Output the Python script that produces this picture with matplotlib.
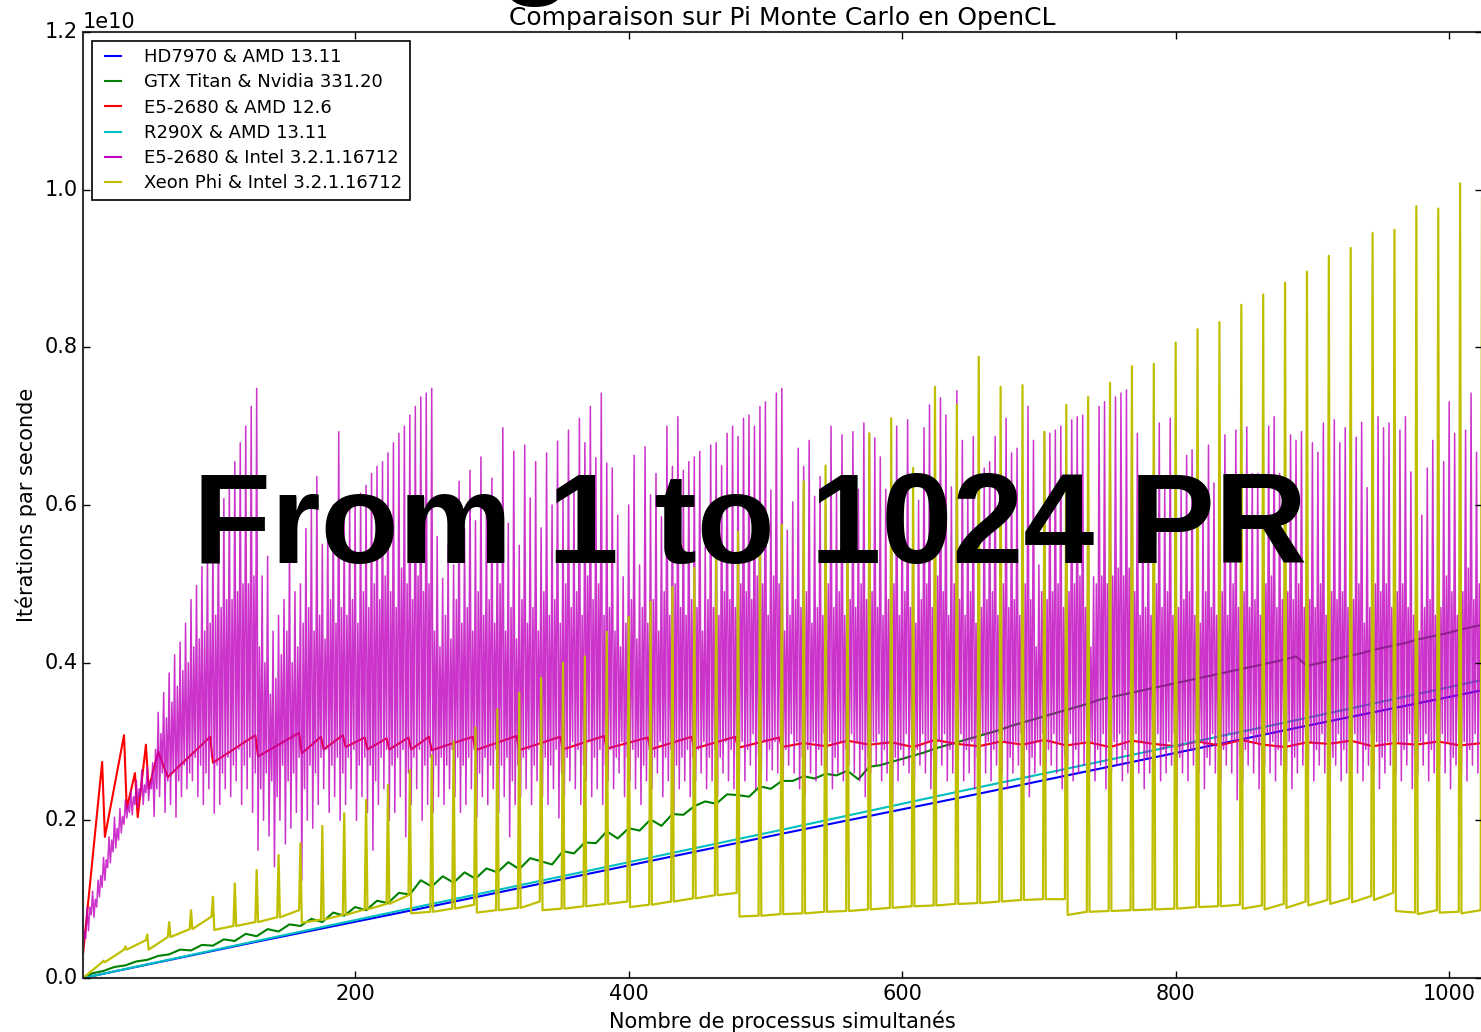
import numpy as np
import matplotlib
matplotlib.use("Agg")
import matplotlib.pyplot as plt

plt.style.use("classic")
plt.rcParams["font.family"] = ["DejaVu Sans"]
plt.rcParams["font.size"] = 15

SCALE = 1e10

labels = ["HD7970 & AMD 13.11", "GTX Titan & Nvidia 331.20", "E5-2680 & AMD 12.6",
          "R290X & AMD 13.11", "E5-2680 & Intel 3.2.1.16712", "Xeon Phi & Intel 3.2.1.16712"]

# HD7970 / R290X : almost straight lines (values in 1e10 it/s)
lin_x = [1, 128, 256, 384, 512, 640, 768, 896, 1024]
hd7970 = [0.0, 0.046, 0.091, 0.137, 0.183, 0.228, 0.274, 0.320, 0.365]
r290x = [0.0, 0.047, 0.094, 0.141, 0.188, 0.236, 0.283, 0.330, 0.378]

# GTX Titan, read every 8 processes
titan_x = [1] + list(range(8, 1025, 8))
titan = [0.000,
         0.006, 0.009, 0.014, 0.016, 0.021, 0.023, 0.028, 0.030,
         0.036, 0.035, 0.042, 0.041, 0.049, 0.047, 0.056, 0.053,
         0.062, 0.059, 0.068, 0.066, 0.075, 0.071, 0.083, 0.079,
         0.090, 0.086, 0.098, 0.095, 0.108, 0.106, 0.124, 0.116,
         0.129, 0.121, 0.134, 0.126, 0.139, 0.134, 0.147, 0.138,
         0.152, 0.148, 0.144, 0.161, 0.158, 0.172, 0.171, 0.186,
         0.177, 0.190, 0.187, 0.201, 0.193, 0.208, 0.207, 0.218,
         0.224, 0.221, 0.233, 0.232, 0.230, 0.243, 0.240, 0.250,
         0.250, 0.256, 0.253, 0.259, 0.257, 0.263, 0.252, 0.268,
         0.270, 0.274, 0.278, 0.282, 0.286, 0.291, 0.295, 0.299,
         0.303, 0.307, 0.311, 0.315, 0.320, 0.324, 0.328, 0.332,
         0.336, 0.340, 0.344, 0.348, 0.353, 0.356, 0.359, 0.362,
         0.365, 0.368, 0.371, 0.374, 0.377, 0.380, 0.383, 0.386,
         0.389, 0.392, 0.395, 0.398, 0.401, 0.404, 0.408, 0.396,
         0.399, 0.402, 0.406, 0.409, 0.412, 0.416, 0.419, 0.422,
         0.425, 0.429, 0.432, 0.435, 0.438, 0.442, 0.445, 0.448]

# E5-2680 with AMD SDK: vertices of the sawtooth
e5amd_x = [1, 15, 17, 31, 33, 39, 41, 47, 49, 56, 63, 94, 96, 127, 129, 159, 161,
           175, 177, 191, 193, 207, 209, 223, 225, 239, 241,
           254, 256, 286, 288, 318, 320, 350, 352, 382, 384, 414, 416, 446, 448, 478, 480, 510, 512] \
          + list(range(528, 1025, 16))
e5amd = [0.03, 0.274, 0.179, 0.308, 0.215, 0.26, 0.204, 0.296, 0.24, 0.287, 0.255, 0.306, 0.273,
         0.308, 0.281, 0.311, 0.285, 0.306, 0.29, 0.308, 0.293, 0.305, 0.29, 0.304, 0.29, 0.305, 0.29,
         0.306, 0.289, 0.306, 0.289, 0.307, 0.289, 0.306, 0.29, 0.307, 0.291, 0.305, 0.29, 0.306,
         0.291, 0.306, 0.292, 0.305, 0.293,
         0.298, 0.294, 0.301, 0.296, 0.299, 0.293, 0.302, 0.297, 0.294, 0.300, 0.296, 0.302,
         0.295, 0.299, 0.293, 0.301, 0.297, 0.294, 0.300, 0.295, 0.302, 0.296, 0.293, 0.299,
         0.297, 0.301, 0.294, 0.298, 0.296, 0.300, 0.295, 0.298]

# E5-2680 with Intel SDK, one row = 64 processes, four samples per 4 processes:
# low (4k+1), mid (4k+2), low2 (4k+3), peak (4k+4)
e5intel_peak = [
    0.09, 0.11, 0.124, 0.153, 0.179, 0.204, 0.215, 0.226, 0.238, 0.251, 0.264, 0.268, 0.273, 0.337, 0.362, 0.387,
    0.41, 0.426, 0.45, 0.48, 0.498, 0.522, 0.546, 0.565, 0.585, 0.608, 0.63, 0.655, 0.679, 0.70, 0.725, 0.748,
    0.51, 0.535, 0.44, 0.46, 0.48, 0.55, 0.49, 0.50, 0.57, 0.60, 0.636, 0.55, 0.58, 0.60, 0.693, 0.59,
    0.60, 0.61, 0.615, 0.625, 0.64, 0.649, 0.655, 0.666, 0.679, 0.691, 0.70, 0.714, 0.725, 0.737, 0.742, 0.748,
    0.56, 0.507, 0.55, 0.524, 0.63, 0.57, 0.644, 0.58, 0.661, 0.60, 0.634, 0.60, 0.698, 0.577, 0.668, 0.549,
    0.676, 0.609, 0.655, 0.571, 0.666, 0.60, 0.681, 0.61, 0.695, 0.62, 0.71, 0.679, 0.725, 0.66, 0.742, 0.653,
    0.647, 0.587, 0.509, 0.60, 0.663, 0.524, 0.674, 0.613, 0.64, 0.585, 0.70, 0.649, 0.712, 0.644, 0.655, 0.661,
    0.668, 0.547, 0.676, 0.679, 0.65, 0.691, 0.70, 0.687, 0.71, 0.714, 0.70, 0.725, 0.731, 0.619, 0.742, 0.748,
    0.568, 0.604, 0.672, 0.649, 0.682, 0.611, 0.636, 0.60, 0.70, 0.62, 0.689, 0.62, 0.693, 0.62, 0.704, 0.691,
    0.685, 0.661, 0.62, 0.65, 0.70, 0.62, 0.708, 0.62, 0.606, 0.698, 0.727, 0.65, 0.736, 0.714, 0.623, 0.745,
    0.682, 0.62, 0.687, 0.62, 0.647, 0.655, 0.687, 0.62, 0.71, 0.666, 0.672, 0.62, 0.725, 0.682, 0.524, 0.693,
    0.691, 0.695, 0.70, 0.65, 0.708, 0.712, 0.714, 0.65, 0.509, 0.725, 0.731, 0.733, 0.737, 0.742, 0.746, 0.748,
    0.691, 0.62, 0.62, 0.63, 0.704, 0.62, 0.71, 0.62, 0.62, 0.663, 0.67, 0.62, 0.60, 0.676, 0.628, 0.63,
    0.689, 0.62, 0.695, 0.63, 0.699, 0.64, 0.64, 0.63, 0.70, 0.712, 0.64, 0.64, 0.689, 0.682, 0.693, 0.66,
    0.679, 0.667, 0.704, 0.64, 0.708, 0.679, 0.698, 0.64, 0.686, 0.705, 0.622, 0.64, 0.712, 0.698, 0.704, 0.64,
    0.695, 0.712, 0.642, 0.62, 0.587, 0.647, 0.682, 0.62, 0.655, 0.731, 0.691, 0.62, 0.695, 0.742, 0.667, 0.70]
e5intel_mid = [
    0.06, 0.09, 0.10, 0.13, 0.15, 0.175, 0.19, 0.205, 0.22, 0.23, 0.24, 0.245, 0.25, 0.29, 0.31, 0.33,
    0.35, 0.37, 0.39, 0.40, 0.42, 0.43, 0.44, 0.45, 0.46, 0.47, 0.48, 0.48, 0.49, 0.50, 0.50, 0.51,
    0.42, 0.40, 0.36, 0.38, 0.41, 0.44, 0.40, 0.42, 0.45, 0.47, 0.44, 0.46, 0.43, 0.48, 0.45, 0.47,
    0.46, 0.48, 0.45, 0.49, 0.47, 0.50, 0.48, 0.51, 0.49, 0.47, 0.52, 0.50, 0.48, 0.51, 0.49, 0.50,
    0.44, 0.42, 0.46, 0.43, 0.48, 0.45, 0.47, 0.44, 0.49, 0.46, 0.48, 0.45, 0.50, 0.44, 0.47, 0.43,
    0.48, 0.45, 0.47, 0.44, 0.49, 0.46, 0.48, 0.45, 0.50, 0.47, 0.49, 0.46, 0.51, 0.48, 0.50, 0.46,
    0.47, 0.44, 0.42, 0.45, 0.48, 0.43, 0.47, 0.45, 0.48, 0.44, 0.49, 0.46, 0.50, 0.47, 0.46, 0.48,
    0.47, 0.44, 0.48, 0.47, 0.46, 0.49, 0.48, 0.47, 0.50, 0.49, 0.48, 0.51, 0.50, 0.46, 0.51, 0.50,
    0.44, 0.46, 0.48, 0.47, 0.49, 0.45, 0.47, 0.46, 0.50, 0.47, 0.49, 0.46, 0.48, 0.47, 0.50, 0.48,
    0.49, 0.47, 0.46, 0.48, 0.50, 0.46, 0.49, 0.47, 0.45, 0.48, 0.50, 0.47, 0.51, 0.49, 0.46, 0.50,
    0.48, 0.46, 0.49, 0.45, 0.47, 0.48, 0.49, 0.46, 0.50, 0.47, 0.48, 0.46, 0.50, 0.48, 0.42, 0.49,
    0.48, 0.49, 0.50, 0.47, 0.49, 0.50, 0.51, 0.47, 0.42, 0.50, 0.51, 0.50, 0.51, 0.52, 0.51, 0.52,
    0.49, 0.46, 0.47, 0.46, 0.50, 0.47, 0.49, 0.46, 0.47, 0.48, 0.49, 0.46, 0.45, 0.49, 0.47, 0.46,
    0.49, 0.46, 0.50, 0.47, 0.49, 0.47, 0.48, 0.46, 0.50, 0.51, 0.47, 0.48, 0.49, 0.48, 0.50, 0.47,
    0.48, 0.47, 0.50, 0.46, 0.49, 0.48, 0.49, 0.47, 0.48, 0.50, 0.45, 0.47, 0.50, 0.49, 0.50, 0.47,
    0.49, 0.50, 0.47, 0.46, 0.44, 0.47, 0.48, 0.46, 0.47, 0.51, 0.49, 0.46, 0.49, 0.52, 0.48, 0.50]
e5intel_low = [
    0.03, 0.06, 0.077, 0.103, 0.124, 0.146, 0.165, 0.184, 0.203, 0.207, 0.216, 0.22, 0.225, 0.205, 0.23, 0.21,
    0.22, 0.204, 0.23, 0.24, 0.25, 0.23, 0.22, 0.24, 0.209, 0.22, 0.24, 0.23, 0.25, 0.22, 0.24, 0.21,
    0.162, 0.2, 0.18, 0.141, 0.2, 0.17, 0.19, 0.21, 0.124, 0.2, 0.19, 0.22, 0.24, 0.21, 0.23, 0.2,
    0.22, 0.24, 0.2, 0.23, 0.21, 0.162, 0.22, 0.24, 0.2, 0.21, 0.23, 0.179, 0.22, 0.24, 0.2, 0.22,
    0.21, 0.23, 0.22, 0.24, 0.23, 0.21, 0.22, 0.24, 0.204, 0.23, 0.22, 0.24, 0.21, 0.23, 0.179, 0.22,
    0.23, 0.24, 0.22, 0.25, 0.23, 0.22, 0.24, 0.203, 0.23, 0.25, 0.24, 0.22, 0.25, 0.23, 0.24, 0.22,
    0.25, 0.24, 0.26, 0.23, 0.25, 0.24, 0.22, 0.25, 0.24, 0.26, 0.23, 0.25, 0.209, 0.24, 0.25, 0.23,
    0.25, 0.26, 0.24, 0.25, 0.23, 0.26, 0.25, 0.24, 0.26, 0.25, 0.27, 0.24, 0.26, 0.25, 0.264, 0.26,
    0.25, 0.27, 0.26, 0.24, 0.23, 0.26, 0.25, 0.27, 0.26, 0.24, 0.26, 0.25, 0.27, 0.26, 0.25, 0.23,
    0.26, 0.27, 0.25, 0.26, 0.222, 0.25, 0.27, 0.26, 0.25, 0.27, 0.26, 0.24, 0.26, 0.27, 0.25, 0.26,
    0.27, 0.25, 0.26, 0.24, 0.27, 0.26, 0.25, 0.27, 0.26, 0.24, 0.26, 0.27, 0.25, 0.23, 0.26, 0.27,
    0.25, 0.27, 0.26, 0.24, 0.27, 0.25, 0.26, 0.27, 0.26, 0.25, 0.27, 0.24, 0.26, 0.27, 0.25, 0.26,
    0.27, 0.26, 0.24, 0.26, 0.27, 0.25, 0.26, 0.27, 0.23, 0.26, 0.25, 0.27, 0.26, 0.24, 0.27, 0.26,
    0.25, 0.27, 0.26, 0.226, 0.25, 0.27, 0.26, 0.24, 0.27, 0.26, 0.25, 0.27, 0.26, 0.24, 0.26, 0.27,
    0.26, 0.25, 0.27, 0.26, 0.24, 0.27, 0.25, 0.26, 0.27, 0.26, 0.25, 0.27, 0.26, 0.24, 0.26, 0.27,
    0.26, 0.25, 0.27, 0.24, 0.26, 0.27, 0.25, 0.26, 0.27, 0.26, 0.24, 0.27, 0.26, 0.25, 0.27, 0.26]
e5intel_low2 = [
    0.05, 0.08, 0.09, 0.115, 0.14, 0.16, 0.175, 0.195, 0.21, 0.22, 0.23, 0.235, 0.24, 0.24, 0.26, 0.25,
    0.26, 0.25, 0.27, 0.26, 0.28, 0.27, 0.26, 0.28, 0.27, 0.26, 0.28, 0.27, 0.29, 0.27, 0.28, 0.26,
    0.24, 0.26, 0.25, 0.23, 0.27, 0.25, 0.26, 0.28, 0.24, 0.27, 0.26, 0.28, 0.29, 0.27, 0.28, 0.26,
    0.28, 0.29, 0.27, 0.28, 0.27, 0.25, 0.28, 0.29, 0.27, 0.28, 0.29, 0.26, 0.28, 0.29, 0.27, 0.28,
    0.27, 0.28, 0.27, 0.29, 0.28, 0.27, 0.28, 0.29, 0.26, 0.28, 0.27, 0.29, 0.27, 0.28, 0.25, 0.27,
    0.28, 0.29, 0.27, 0.30, 0.28, 0.27, 0.29, 0.26, 0.28, 0.30, 0.29, 0.27, 0.30, 0.28, 0.29, 0.27,
    0.29, 0.28, 0.30, 0.28, 0.29, 0.28, 0.27, 0.29, 0.28, 0.30, 0.28, 0.29, 0.27, 0.28, 0.29, 0.28,
    0.29, 0.30, 0.28, 0.29, 0.28, 0.30, 0.29, 0.28, 0.30, 0.29, 0.31, 0.28, 0.30, 0.29, 0.30, 0.30,
    0.29, 0.31, 0.30, 0.28, 0.29, 0.30, 0.29, 0.31, 0.30, 0.28, 0.30, 0.29, 0.31, 0.30, 0.29, 0.28,
    0.30, 0.31, 0.29, 0.30, 0.28, 0.29, 0.31, 0.30, 0.29, 0.31, 0.30, 0.28, 0.30, 0.31, 0.29, 0.30,
    0.31, 0.29, 0.30, 0.28, 0.31, 0.30, 0.29, 0.31, 0.30, 0.28, 0.30, 0.31, 0.29, 0.28, 0.30, 0.31,
    0.29, 0.31, 0.30, 0.28, 0.31, 0.29, 0.30, 0.31, 0.30, 0.29, 0.31, 0.28, 0.30, 0.31, 0.29, 0.30,
    0.31, 0.30, 0.28, 0.30, 0.31, 0.29, 0.30, 0.31, 0.28, 0.30, 0.29, 0.31, 0.30, 0.28, 0.31, 0.30,
    0.29, 0.31, 0.30, 0.28, 0.29, 0.31, 0.30, 0.28, 0.31, 0.30, 0.29, 0.31, 0.30, 0.28, 0.30, 0.31,
    0.30, 0.29, 0.31, 0.30, 0.28, 0.31, 0.29, 0.30, 0.31, 0.30, 0.29, 0.31, 0.30, 0.28, 0.30, 0.31,
    0.30, 0.29, 0.31, 0.28, 0.30, 0.31, 0.29, 0.30, 0.31, 0.30, 0.28, 0.31, 0.30, 0.29, 0.31, 0.30]

# Xeon Phi: spikes every 16 processes, level just before / after each spike
phi_peak = [0.022, 0.040, 0.055, 0.071, 0.086, 0.103, 0.120, 0.137, 0.156, 0.171, 0.193, 0.209, 0.226, 0.245, 0.264, 0.283,
            0.300, 0.318, 0.341, 0.362, 0.381, 0.400, 0.408, 0.439, 0.458, 0.477, 0.496, 0.520, 0.547, 0.566, 0.550, 0.575,
            0.630, 0.650, 0.600, 0.691, 0.710, 0.647, 0.750, 0.727, 0.788, 0.750, 0.752, 0.693, 0.727, 0.737, 0.755, 0.776,
            0.779, 0.806, 0.823, 0.832, 0.854, 0.867, 0.882, 0.896, 0.916, 0.926, 0.945, 0.949, 0.979, 0.976, 1.008, 0.990]
phi_pre = [0.020, 0.036, 0.048, 0.052, 0.062, 0.078, 0.066, 0.071, 0.077, 0.086, 0.074, 0.080, 0.087, 0.094, 0.105, 0.084,
           0.088, 0.093, 0.086, 0.089, 0.097, 0.088, 0.091, 0.094, 0.097, 0.093, 0.097, 0.101, 0.105, 0.108, 0.079, 0.081,
           0.082, 0.084, 0.085, 0.087, 0.089, 0.091, 0.092, 0.094, 0.095, 0.097, 0.099, 0.100, 0.100, 0.084, 0.085, 0.086,
           0.087, 0.088, 0.090, 0.091, 0.093, 0.092, 0.094, 0.097, 0.099, 0.101, 0.104, 0.108, 0.083, 0.086, 0.084, 0.086]
phi_post = [0.020, 0.036, 0.036, 0.052, 0.062, 0.061, 0.066, 0.071, 0.077, 0.070, 0.074, 0.080, 0.087, 0.094, 0.082, 0.084,
            0.088, 0.083, 0.086, 0.089, 0.086, 0.088, 0.091, 0.094, 0.090, 0.093, 0.097, 0.101, 0.105, 0.078, 0.079, 0.081,
            0.082, 0.084, 0.085, 0.087, 0.089, 0.091, 0.092, 0.094, 0.095, 0.097, 0.099, 0.100, 0.080, 0.084, 0.085, 0.086,
            0.087, 0.088, 0.090, 0.091, 0.088, 0.087, 0.089, 0.092, 0.094, 0.096, 0.099, 0.085, 0.081, 0.083, 0.082, 0.086]

# build the polylines of the two spiky series from the values above
intel_x, intel_y = [], []
for k in range(len(e5intel_peak)):
    intel_x += [4 * k + 1, 4 * k + 2, 4 * k + 3, 4 * k + 4]
    intel_y += [e5intel_low[k], e5intel_mid[k], e5intel_low2[k], e5intel_peak[k]]

phi_x, phi_y = [1], [0.0]
for k in range(len(phi_peak)):
    c = 16 * (k + 1)
    phi_x += [c - 1, c, c + 1]
    phi_y += [phi_pre[k], phi_peak[k], phi_post[k]]

fig = plt.figure(figsize=(14.81, 10.32), dpi=100, facecolor="white")
ax = fig.add_axes([83 / 1481, 54 / 1032, 1399 / 1481, 946 / 1032])

series = [(lin_x, hd7970, "b", 1.5, 1.0), (titan_x, titan, "g", 1.5, 1.0),
          (e5amd_x, e5amd, "r", 1.5, 1.0), (lin_x, r290x, "c", 1.5, 1.0),
          (intel_x, intel_y, "m", 1.1, 0.8), (phi_x, phi_y, "y", 1.6, 1.0)]
for (xs, ys, col, lw, al), lab in zip(series, labels):
    ax.plot(xs, np.array(ys) * SCALE, color=col, lw=lw, alpha=al, label=lab)

ax.set_xlim(1, 1024)
ax.set_ylim(0, 1.2e10)
ax.set_xticks([200, 400, 600, 800, 1000])
ax.set_yticks(np.arange(0, 1.21e10, 0.2e10))
for s in ax.spines.values():
    s.set_linewidth(1.5)
    s.set_color("#333333")
ax.tick_params(labelsize=15, length=5, width=1)

ax.set_title("Comparaison sur Pi Monte Carlo en OpenCL", fontsize=18)
ax.set_xlabel("Nombre de processus simultanés", fontsize=15)
ax.set_ylabel("Itérations par seconde", fontsize=15)

leg = ax.legend(loc="upper left", fontsize=13, handlelength=1.5, handletextpad=1.0,
                borderaxespad=0.5, labelspacing=0.4)
leg.get_frame().set_linewidth(1.2)
for h in leg.get_lines():
    h.set_linewidth(1.5)
    h.set_alpha(1.0)

fig.text(750 / 1481, (1032 - 563) / 1032, "From 1 to 1024 PR", fontsize=92, fontweight="bold",
         family="Liberation Sans", ha="center", va="baseline", color="black")
# bottom of a larger heading that is cut by the top edge
fig.text(536 / 1481, 1.018, "g", fontsize=90, fontweight="bold",
         family="Liberation Sans", ha="center", va="baseline", color="black")

fig.savefig("out.png", dpi=100, facecolor="white")
